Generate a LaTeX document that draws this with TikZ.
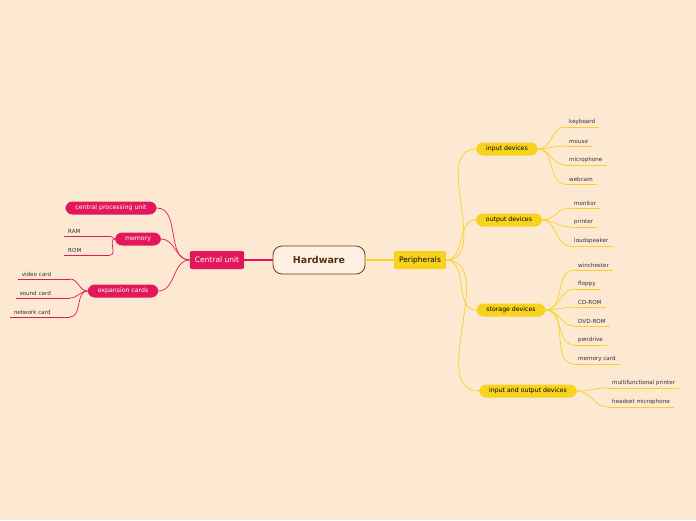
\documentclass[tikz,border=0pt]{standalone}
\usepackage{fontspec}
\setmainfont{DejaVu Sans}
\usetikzlibrary{positioning}
\definecolor{bgcol}{HTML}{FDE8D2}
\definecolor{pinkcol}{HTML}{E2185B}
\definecolor{yelcol}{HTML}{F7D31E}
\definecolor{browncol}{HTML}{6B3E12}
\tikzset{
    root/.style={rectangle, rounded corners=9pt, draw=browncol, thick, fill=bgcol!60!white, minimum width=92pt, minimum height=28pt, font=\bfseries\fontsize{9.5}{11}\selectfont, text=browncol!80!black},
    main/.style={rectangle, rounded corners=2pt, fill=#1, minimum height=18pt, inner xsep=5pt, font=\fontsize{7.5}{9}\selectfont},
    sub/.style={rectangle, rounded corners=7pt, fill=#1, minimum height=13pt, inner xsep=10pt, font=\fontsize{6.2}{7}\selectfont},
    leaf/.style={inner xsep=4pt, inner ysep=2pt, font=\fontsize{5.6}{6.5}\selectfont, text=black!80, anchor=south west,
        append after command={(\tikzlastnode.south west) edge[draw=#1, line width=0.7pt] (\tikzlastnode.south east)}},
    pk/.style={draw=pinkcol, line width=0.7pt},
    yl/.style={draw=yelcol, line width=0.7pt}
}
\begin{document}
\begin{tikzpicture}[x=1pt, y=-1pt]
    \fill[bgcol] (0,0) rectangle (696,520);
    \useasboundingbox (0,0) rectangle (696,520);

    % center
    \node[root] (hw) at (319,260) {Hardware};
    \node[main=pinkcol, text=white] (cu) at (217,260) {Central unit};
    \node[main=yelcol, text=black] (per) at (420,260) {Peripherals};
    \draw[pk, line width=1.5pt] (cu.east) -- (hw.west);
    \draw[yl, line width=1.2pt] (hw.east) -- (per.west);

    % Central unit
    \node[sub=pinkcol, text=white] (cpu) at (111,208) {central processing unit};
    \node[sub=pinkcol, text=white] (mem) at (138,239) {memory};
    \node[sub=pinkcol, text=white] (exp) at (123,291) {expansion cards};
    \foreach \n in {cpu, mem, exp}
        \draw[pk] (cu.west) to[out=180, in=0] (\n.east);

    \node[leaf=pinkcol, text width=38pt] (ram) at (64,236) {RAM};
    \node[leaf=pinkcol, text width=38pt] (rom) at (64,255) {ROM};
    \node[leaf=pinkcol, text width=44pt, anchor=south east] (vid) at (70,279) {video card};
    \node[leaf=pinkcol, text width=46pt, anchor=south east] (snd) at (70,298) {sound card};
    \node[leaf=pinkcol, text width=52pt, anchor=south east] (net) at (70,317) {network card};
    \foreach \n in {ram, rom}
        \draw[pk] (mem.west) to[out=180, in=0] (\n.south east);
    \foreach \n in {vid, snd, net}
        \draw[pk] (exp.west) to[out=180, in=0] (\n.south east);

    % Peripherals
    \node[sub=yelcol] (inp) at (507,149) {input devices};
    \node[sub=yelcol] (out) at (509,220) {output devices};
    \node[sub=yelcol] (sto) at (511,310) {storage devices};
    \node[sub=yelcol] (io) at (528,391) {input and output devices};
    \foreach \n in {inp, out, sto, io}
        \draw[yl] (per.east) to[out=0, in=180] (\n.west);

    \foreach \n/\y/\t in {k1/127/keyboard, k2/146/mouse, k3/165/microphone, k4/184/webcam}
        \node[leaf=yelcol] (\n) at (565,\y) {\t};
    \foreach \n in {k1, k2, k3, k4}
        \draw[yl] (inp.east) to[out=0, in=180] (\n.south west);

    \foreach \n/\y/\t in {o1/208/monitor, o2/227/printer, o3/246/loudspeaker}
        \node[leaf=yelcol] (\n) at (570,\y) {\t};
    \foreach \n in {o1, o2, o3}
        \draw[yl] (out.east) to[out=0, in=180] (\n.south west);

    \foreach \n/\y/\t in {s1/270/winchester, s2/289/floppy, s3/307/CD-ROM, s4/326/DVD-ROM, s5/345/pendrive, s6/364/memory card}
        \node[leaf=yelcol] (\n) at (574,\y) {\t};
    \foreach \n in {s1, s2, s3, s4, s5, s6}
        \draw[yl] (sto.east) to[out=0, in=180] (\n.south west);

    \foreach \n/\y/\t in {m1/388/multifunctional printer, m2/407/headset microphone}
        \node[leaf=yelcol] (\n) at (608,\y) {\t};
    \foreach \n in {m1, m2}
        \draw[yl] (io.east) to[out=0, in=180] (\n.south west);
\end{tikzpicture}
\end{document}
